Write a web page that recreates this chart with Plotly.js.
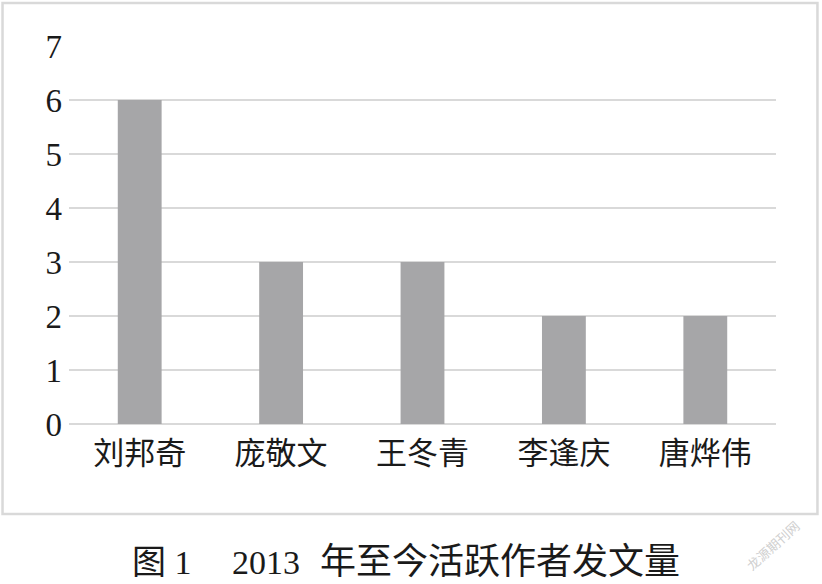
<!DOCTYPE html>
<html>
<head>
<meta charset="utf-8">
<script src="https://cdn.plot.ly/plotly-3.0.1.min.js"></script>
<style>html,body{margin:0;padding:0;background:#fff;}#chart{width:822px;height:584px;}</style>
</head>
<body>
<div id="chart"></div>
<script>
const authors = ["刘邦奇", "庞敬文", "王冬青", "李逢庆", "唐烨伟"];
const counts = [6, 3, 3, 2, 2];
const yTicks = [0, 1, 2, 3, 4, 5, 6, 7];
const captionParts = ["图 1", "2013", "年至今活跃作者发文量"];
const watermarkText = "龙源期刊网";

const W = 822, H = 584;
const L = 69.4, R = 46.4, T = 46, B = 160;
const pw = W - L - R, ph = H - T - B;
const px = x => (x - L) / pw;
const py = y => (H - B - y) / ph;

const trace = {
  type: "bar",
  x: authors,
  y: counts,
  marker: {color: "#a6a6a8", line: {width: 0}},
  hoverinfo: "skip"
};

const capFont = {family: "Liberation Serif, Noto Sans CJK SC", size: 34, color: "#1a1a1a"};
const capX = [162, 266, 500];

const layout = {
  width: W, height: H,
  margin: {l: L, r: R, t: T, b: B, pad: 0},
  paper_bgcolor: "#ffffff",
  plot_bgcolor: "#ffffff",
  showlegend: false,
  bargap: 0.69,
  xaxis: {
    showgrid: false,
    showline: false,
    ticks: "",
    tickfont: {family: "Noto Sans CJK SC", size: 31, color: "#1a1a1a"},
    ticklabelstandoff: 8
  },
  yaxis: {
    range: [0, 7],
    tickvals: yTicks,
    ticktext: yTicks.map(String),
    showgrid: true,
    gridcolor: "#d9d9d9",
    gridwidth: 2,
    zeroline: true,
    zerolinecolor: "#d9d9d9",
    zerolinewidth: 2,
    showline: false,
    ticks: "",
    tickfont: {family: "Liberation Serif", size: 33, color: "#1a1a1a"},
    ticklabelstandoff: 6
  },
  shapes: [{
    type: "rect", xref: "paper", yref: "paper",
    x0: px(3), x1: px(817), y0: py(514), y1: py(3),
    line: {color: "#d9d9d9", width: 2.5},
    fillcolor: "rgba(0,0,0,0)",
    layer: "below"
  }],
  annotations: captionParts.map((t, i) => ({
    text: t,
    xref: "paper", yref: "paper",
    x: px(capX[i]), y: py(562),
    xanchor: "center", yanchor: "middle",
    showarrow: false,
    font: i === 2 ? Object.assign({}, capFont, {size: 36}) : capFont
  })).concat([{
    text: watermarkText,
    xref: "paper", yref: "paper",
    x: px(772), y: py(545),
    xanchor: "center", yanchor: "middle",
    showarrow: false,
    textangle: -42,
    font: {family: "Noto Sans CJK SC", size: 13, color: "#cfcfcf"}
  }])
};

Plotly.newPlot("chart", [trace], layout, {displayModeBar: false, staticPlot: true});
</script>
</body>
</html>
